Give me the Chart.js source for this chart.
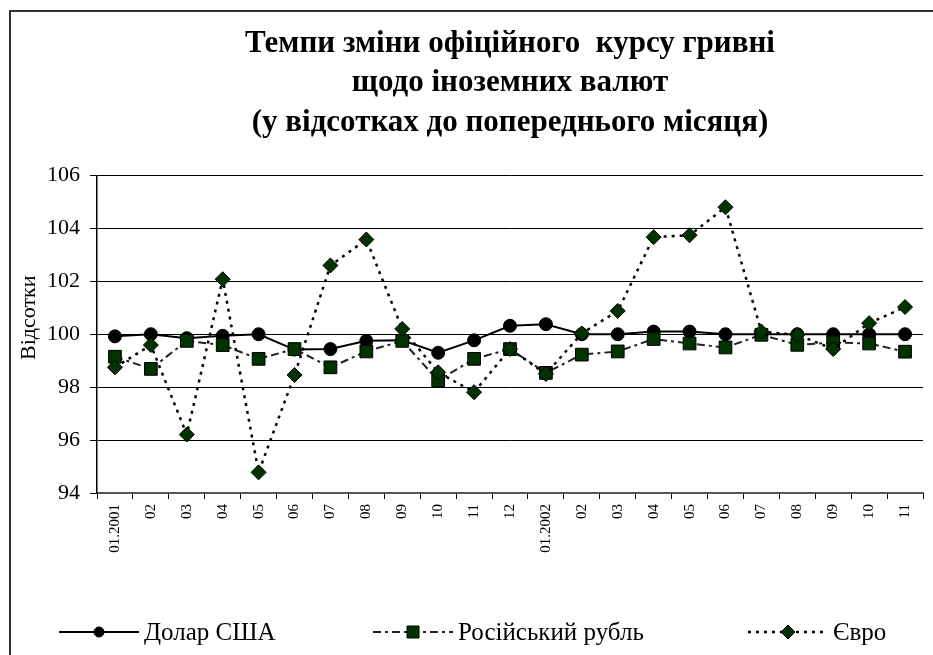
<!DOCTYPE html>
<html><head><meta charset="utf-8">
<script src="https://cdn.jsdelivr.net/npm/chart.js@4"></script>
<style>
html,body{margin:0;padding:0;background:#fff;overflow:hidden}
#wrap{position:absolute;left:0;top:0;width:933px;height:655px;overflow:hidden}
#frame{position:absolute;left:9px;top:10px;width:1000px;height:1000px;border-left:2px solid #333;border-top:2px solid #333;pointer-events:none}
canvas{position:absolute;left:0;top:0}
</style></head>
<body><div id="wrap"><canvas id="c" width="933" height="655"></canvas><div id="frame"></div></div>
<script>
const categories = ['01.2001','02','03','04','05','06','07','08','09','10','11','12','01.2002','02','03','04','05','06','07','08','09','10','11'];
const usdValues = [99.92,100.0,99.85,99.94,100.0,99.42,99.44,99.75,99.77,99.30,99.77,100.32,100.38,100.0,100.0,100.1,100.1,100.0,100.0,100.0,100.0,100.0,100.0];
const rubValues = [99.15,98.69,99.75,99.59,99.07,99.44,98.75,99.35,99.75,98.25,99.07,99.44,98.54,99.23,99.35,99.82,99.65,99.50,99.98,99.60,99.69,99.65,99.34];
const eurValues = [98.75,99.59,96.21,102.08,94.78,98.46,102.6,103.58,100.2,98.56,97.81,99.44,98.50,100.03,100.88,103.67,103.74,104.80,100.1,99.98,99.44,100.42,101.03];
const seriesNames = ['Долар США','Російський рубль','Євро'];
const yTicks = [94,96,98,100,102,104,106];
const titleLines = ['Темпи зміни офіційного  курсу гривні','щодо іноземних валют','(у відсотках до попереднього місяця)'];
const yTitle = 'Відсотки';

const FONT = "'Liberation Serif','Times New Roman',serif";
const GREEN = '#003300';

function drawMarker(ctx, style, x, y, r){
  ctx.save();
  ctx.setLineDash([]);
  ctx.lineWidth = 1;
  ctx.strokeStyle = '#000';
  ctx.beginPath();
  if(style==='circle'){ ctx.fillStyle='#000'; ctx.arc(x,y,r,0,Math.PI*2); }
  else if(style==='rect'){ ctx.fillStyle=GREEN; ctx.rect(x-r,y-r,2*r,2*r); }
  else { ctx.fillStyle=GREEN; ctx.moveTo(x,y-r); ctx.lineTo(x+r,y); ctx.lineTo(x,y+r); ctx.lineTo(x-r,y); ctx.closePath(); }
  ctx.fill(); ctx.stroke();
  ctx.restore();
}

const legendPlugin = {
  id:'bottomLegend',
  afterDraw(chart){
    const ctx = chart.ctx;
    const y = 632;
    const xs = [59,373,748];
    const mr = [5,6,7];
    chart.data.datasets.forEach((ds,i)=>{
      const x0 = xs[i];
      ctx.save();
      ctx.strokeStyle = ds.borderColor;
      ctx.lineWidth = ds.borderWidth;
      ctx.setLineDash(ds.borderDash||[]);
      ctx.beginPath(); ctx.moveTo(x0,y); ctx.lineTo(x0+80,y); ctx.stroke();
      ctx.restore();
      drawMarker(ctx, ds.pointStyle, x0+40, y, mr[i]);
      ctx.save();
      ctx.font = '25px '+FONT;
      ctx.fillStyle = '#000';
      ctx.textBaseline = 'middle';
      ctx.textAlign = 'left';
      ctx.fillText(ds.label, x0+85, y+1);
      ctx.restore();
    });
  }
};

new Chart(document.getElementById('c'), {
  type:'line',
  data:{
    labels: categories,
    datasets:[
      {label:seriesNames[0], data:usdValues, borderColor:'#000', borderWidth:2, pointStyle:'circle', pointRadius:6.5, pointBackgroundColor:'#000', pointBorderColor:'#000', pointBorderWidth:1, tension:0, order:3},
      {label:seriesNames[1], data:rubValues, borderColor:'#222', borderWidth:2, borderDash:[8,4,3,4], pointStyle:'rect', pointRadius:9, pointBackgroundColor:GREEN, pointBorderColor:'#000', pointBorderWidth:1, tension:0, order:2},
      {label:seriesNames[2], data:eurValues, borderColor:'#000', borderWidth:2.5, borderDash:[3,5], pointStyle:'rectRot', pointRadius:7.5, pointBackgroundColor:GREEN, pointBorderColor:'#000', pointBorderWidth:1, tension:0, order:1}
    ]
  },
  options:{
    responsive:false, animation:false, devicePixelRatio:1,
    layout:{padding:{top:0,left:0,right:2,bottom:82}},
    plugins:{
      legend:{display:false},
      tooltip:{enabled:false},
      title:{display:true, text:titleLines, color:'#000', fullSize:false,
        font:{family:FONT, size:31, weight:'bold', lineHeight:1.274},
        padding:{top:24,bottom:33}}
    },
    scales:{
      x:{
        type:'category', offset:true,
        grid:{display:true, drawOnChartArea:false, drawTicks:true, tickLength:6, offset:true, color:'#000'},
        border:{color:'#555', width:2},
        ticks:{minRotation:90, maxRotation:90, autoSkip:false, color:'#000', padding:5, font:{family:FONT, size:15}},
        afterFit(s){ s.height = 80; }
      },
      y:{
        min:94, max:106,
        afterBuildTicks(s){ s.ticks = yTicks.map(v=>({value:v})); },
        grid:{color:'#000', lineWidth:1, tickLength:7},
        border:{color:'#000', width:1.5},
        ticks:{color:'#000', padding:10, font:{family:FONT, size:22}},
        title:{display:true, text:'      '+yTitle, color:'#000', font:{family:FONT, size:22}, padding:{top:16,bottom:0}},
        afterFit(s){ s.width = 97; }
      }
    }
  },
  plugins:[legendPlugin]
});
</script>
</body></html>
